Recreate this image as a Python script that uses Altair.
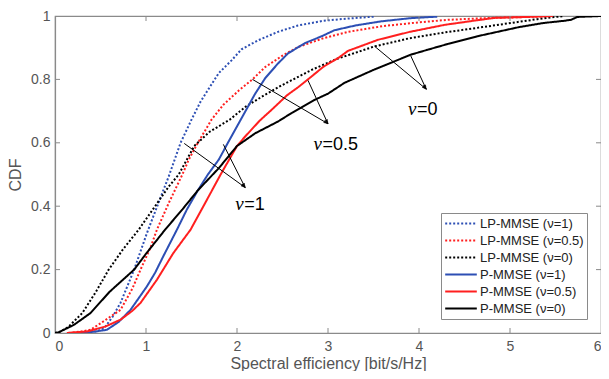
import math
import altair as alt
import pandas as pd

# ---------------- data ----------------
series_names = ["LP-MMSE (ν=1)", "LP-MMSE (ν=0.5)", "LP-MMSE (ν=0)",
                "P-MMSE (ν=1)", "P-MMSE (ν=0.5)", "P-MMSE (ν=0)"]

lp1_x = [0.30, 0.45, 0.54, 0.63, 0.72, 0.87, 1.01, 1.15, 1.25, 1.38, 1.50, 1.60, 1.69, 1.80, 1.94, 2.05, 2.23, 2.45, 2.67, 2.95, 3.22, 3.51]
lp1_y = [0.0, 0.005, 0.015, 0.05, 0.095, 0.2, 0.315, 0.42, 0.494, 0.6, 0.673, 0.73, 0.771, 0.82, 0.86, 0.895, 0.923, 0.95, 0.97, 0.985, 0.992, 0.998]

lp05_x = [0.15, 0.30, 0.39, 0.55, 0.72, 0.85, 0.94, 1.05, 1.12, 1.25, 1.40, 1.47, 1.55, 1.72, 1.85, 2.02, 2.17, 2.31, 2.50, 2.67, 2.95, 3.22, 3.60, 4.00, 4.32, 4.80, 5.20, 5.50]
lp05_y = [0.0, 0.005, 0.01, 0.04, 0.073, 0.14, 0.2, 0.27, 0.326, 0.41, 0.5, 0.547, 0.59, 0.673, 0.72, 0.765, 0.80, 0.839, 0.875, 0.902, 0.93, 0.95, 0.968, 0.98, 0.988, 0.994, 0.997, 1.0]

lp0_x = [0.0, 0.06, 0.15, 0.30, 0.45, 0.59, 0.75, 0.92, 1.10, 1.25, 1.36, 1.53, 1.70, 1.92, 2.10, 2.30, 2.49, 2.82, 3.10, 3.51, 3.90, 4.28, 4.70, 5.01, 5.30, 5.59]
lp0_y = [0.0, 0.005, 0.02, 0.063, 0.13, 0.2, 0.265, 0.326, 0.40, 0.462, 0.5, 0.59, 0.635, 0.673, 0.715, 0.75, 0.781, 0.83, 0.865, 0.904, 0.93, 0.948, 0.965, 0.978, 0.99, 1.0]

p1_x = [0.25, 0.40, 0.57, 0.70, 0.83, 1.01, 1.10, 1.19, 1.34, 1.45, 1.57, 1.68, 1.80, 1.90, 2.02, 2.20, 2.31, 2.45, 2.56, 2.75, 2.93, 3.07, 3.30, 3.58, 3.90, 4.20]
p1_y = [0.0, 0.003, 0.01, 0.035, 0.073, 0.147, 0.19, 0.242, 0.326, 0.39, 0.45, 0.5, 0.547, 0.6, 0.662, 0.755, 0.804, 0.85, 0.882, 0.915, 0.936, 0.955, 0.97, 0.983, 0.993, 0.998]

p05_x = [0.13, 0.35, 0.55, 0.72, 0.85, 0.94, 1.12, 1.30, 1.49, 1.65, 1.82, 2.00, 2.09, 2.25, 2.38, 2.55, 2.67, 2.78, 2.95, 3.11, 3.22, 3.55, 3.90, 4.28, 4.60, 4.83, 5.20, 5.47]
p05_y = [0.0, 0.005, 0.02, 0.042, 0.07, 0.095, 0.168, 0.252, 0.326, 0.41, 0.5, 0.59, 0.62, 0.67, 0.704, 0.75, 0.775, 0.80, 0.84, 0.867, 0.89, 0.925, 0.95, 0.972, 0.985, 0.994, 0.997, 1.0]

p0_x = [0.0, 0.04, 0.21, 0.39, 0.60, 0.87, 1.00, 1.21, 1.40, 1.57, 1.80, 2.00, 2.20, 2.45, 2.60, 2.85, 3.00, 3.18, 3.50, 3.91, 4.10, 4.32, 4.64, 4.83, 5.10, 5.37, 5.60, 5.67, 5.74, 6.00]
p0_y = [0.0, 0.002, 0.026, 0.063, 0.13, 0.2, 0.25, 0.326, 0.39, 0.45, 0.52, 0.59, 0.63, 0.667, 0.694, 0.735, 0.755, 0.789, 0.83, 0.878, 0.894, 0.912, 0.936, 0.948, 0.965, 0.978, 0.985, 0.988, 0.997, 1.0]

series_x = [lp1_x, lp05_x, lp0_x, p1_x, p05_x, p0_x]
series_y = [lp1_y, lp05_y, lp0_y, p1_y, p05_y, p0_y]

# annotation arrows: start (on a curve) -> common tip
arrow_x1 = [1.42, 1.85, 2.17, 2.78, 3.51, 3.91]
arrow_y1 = [0.598, 0.595, 0.80, 0.797, 0.905, 0.874]
arrow_x2 = [2.09, 2.09, 3.00, 3.00, 4.08, 4.08]
arrow_y2 = [0.459, 0.459, 0.66, 0.66, 0.769, 0.769]

label_x = [1.98, 2.84, 3.88]
label_y = [0.387, 0.578, 0.689]
label_rest = ["=1", "=0.5", "=0"]

x_ticks = [0, 1, 2, 3, 4, 5, 6]
y_ticks = [0, 0.2, 0.4, 0.6, 0.8, 1]

# ---------------- style ----------------
W, H = 546, 317
AX = "#8a8a8a"
LBL = "#555555"
FONT = "Liberation Sans"
colors = ["#2d4fb4", "#ff1f1f", "#000000", "#2d4fb4", "#ff1f1f", "#000000"]
dashes = [[2, 2], [2, 2], [2, 2], [1, 0], [1, 0], [1, 0]]

rows = []
for name, xs, ys in zip(series_names, series_x, series_y):
    for i, (xv, yv) in enumerate(zip(xs, ys)):
        rows.append({"series": name, "x": xv, "y": yv, "i": i})
df = pd.DataFrame(rows)

xs_scale = alt.Scale(domain=[0, 6], nice=False, zero=False)
ys_scale = alt.Scale(domain=[0, 1], nice=False)
XT = "Spectral efficiency [bit/s/Hz]"
YT = "CDF"

x_axis = alt.Axis(values=x_ticks, format="d", ticks=False, grid=False, labelPadding=6,
                  titlePadding=2, labelFontSize=14, titleFontSize=16)
y_axis = alt.Axis(values=y_ticks, format="~g", ticks=False, grid=False, labelPadding=5,
                  titlePadding=7, labelFontSize=14, titleFontSize=16)

leg = alt.Legend(
    title=None, orient="none", legendX=386, legendY=197, strokeColor=AX, fillColor="white",
    padding=3, labelFont=FONT, labelFontSize=13, labelColor="#222222",
    symbolType="stroke", symbolSize=1000, symbolStrokeWidth=2, rowPadding=2,
    labelOffset=2, clipHeight=15, labelLimit=200,
)

lines = alt.Chart(df).mark_line(strokeWidth=2, clip=True).encode(
    x=alt.X("x:Q", scale=xs_scale, axis=x_axis, title=XT),
    y=alt.Y("y:Q", scale=ys_scale, axis=y_axis, title=YT),
    color=alt.Color("series:N", scale=alt.Scale(domain=series_names, range=colors), legend=leg),
    strokeDash=alt.StrokeDash("series:N", scale=alt.Scale(domain=series_names, range=dashes), legend=leg),
    order="i:Q",
)

# inner ticks (MATLAB style, on all four sides)
xt = pd.DataFrame({"x": x_ticks[1:-1]})
yt = pd.DataFrame({"y": y_ticks[1:-1]})
tick_b = alt.Chart(xt).mark_rule(color=AX, strokeWidth=1).encode(
    x=alt.X("x:Q", scale=xs_scale, title=XT), y=alt.value(H), y2=alt.value(H - 5))
tick_t = alt.Chart(xt).mark_rule(color=AX, strokeWidth=1).encode(
    x=alt.X("x:Q", scale=xs_scale, title=XT), y=alt.value(0), y2=alt.value(5))
tick_l = alt.Chart(yt).mark_rule(color=AX, strokeWidth=1).encode(
    y=alt.Y("y:Q", scale=ys_scale, title=YT), x=alt.value(0), x2=alt.value(5))
tick_r = alt.Chart(yt).mark_rule(color=AX, strokeWidth=1).encode(
    y=alt.Y("y:Q", scale=ys_scale, title=YT), x=alt.value(W), x2=alt.value(W - 5))

# arrows
adf = pd.DataFrame({"x": arrow_x1, "y": arrow_y1, "x2": arrow_x2, "y2": arrow_y2})
adf["ang"] = [
    math.degrees(math.atan2((b - a) * W / 6.0, (d - c) * H)) % 360
    for a, b, c, d in zip(arrow_x1, arrow_x2, arrow_y1, arrow_y2)
]
arrow_lines = alt.Chart(adf).mark_rule(color="black", strokeWidth=1).encode(
    x=alt.X("x:Q", scale=xs_scale, title=XT), y=alt.Y("y:Q", scale=ys_scale, title=YT),
    x2="x2:Q", y2="y2:Q")
heads = alt.Chart(adf).mark_point(
    shape="M0,0L-0.55,2.2L0,1.8L0.55,2.2Z", filled=True, fill="black", stroke="black",
    strokeWidth=0.5, size=16, opacity=1
).encode(
    x=alt.X("x2:Q", scale=xs_scale, title=XT), y=alt.Y("y2:Q", scale=ys_scale, title=YT),
    angle=alt.Angle("ang:Q", scale=None))

ldf = pd.DataFrame({"x": label_x, "y": label_y, "rest": label_rest, "nu": ["ν"] * 3})
nu_txt = alt.Chart(ldf).mark_text(font="Liberation Serif", fontStyle="italic", fontSize=19,
                                  align="left", baseline="alphabetic", color="black").encode(
    x=alt.X("x:Q", scale=xs_scale, title=XT), y=alt.Y("y:Q", scale=ys_scale, title=YT), text="nu:N")
rest_txt = alt.Chart(ldf).mark_text(font=FONT, fontSize=18, align="left", baseline="alphabetic",
                                    dx=9, color="black").encode(
    x=alt.X("x:Q", scale=xs_scale, title=XT), y=alt.Y("y:Q", scale=ys_scale, title=YT), text="rest:N")

chart = alt.layer(lines, tick_b, tick_t, tick_l, tick_r, arrow_lines, heads, nu_txt, rest_txt).properties(
    width=W, height=H,
    autosize=alt.AutoSizeParams(type="none"),
    padding={"left": 47, "top": 8, "right": 0, "bottom": 38},
).configure_view(stroke=AX, strokeWidth=1.2).configure_axis(
    domainColor=AX, domainWidth=1.2, labelColor=LBL, titleColor=LBL, labelFont=FONT,
    titleFont=FONT, titleFontWeight="normal",
)

chart.save("out.html", embed_options={"renderer": "svg", "actions": False})
